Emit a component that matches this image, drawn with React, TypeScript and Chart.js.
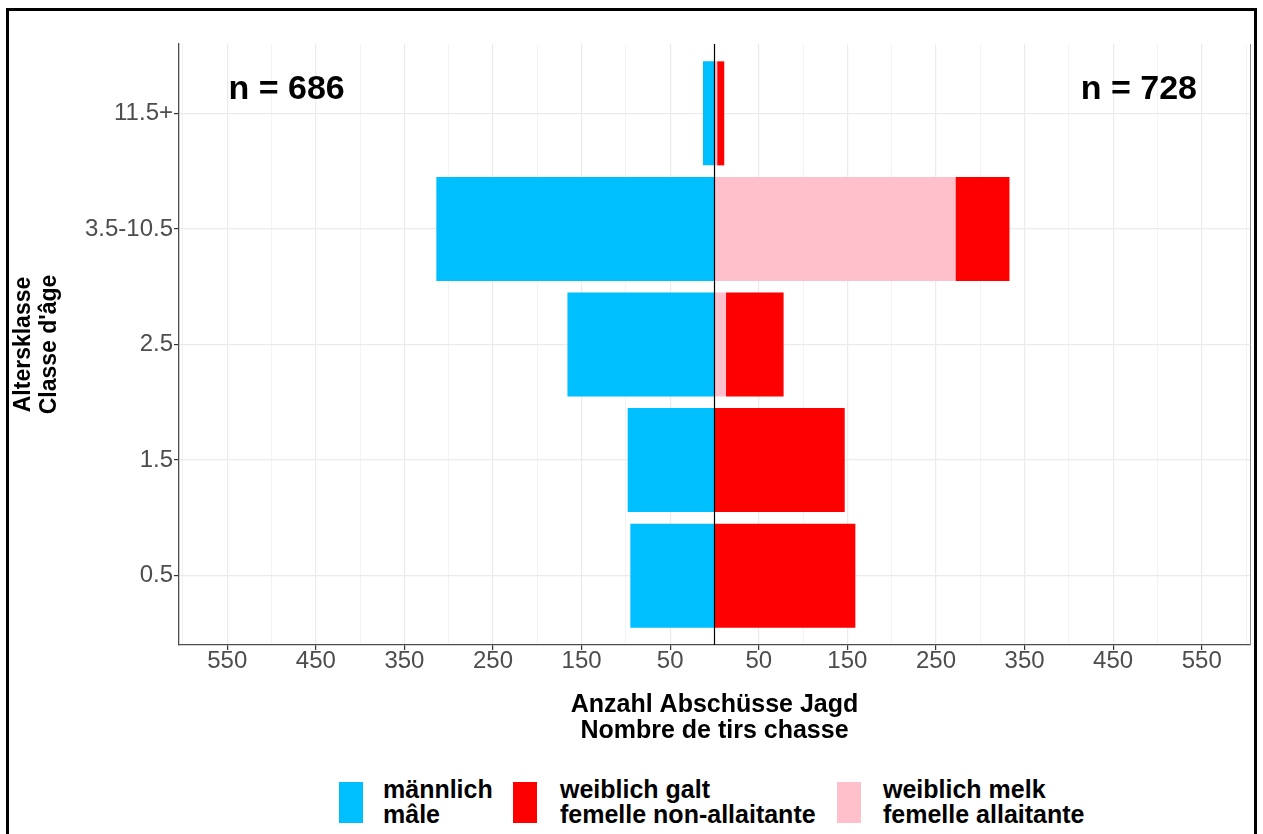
import React, { useEffect, useRef } from 'react';
import { Chart, registerables } from 'chart.js';

Chart.register(...registerables);

// ---- data ----
const categories = ['0.5', '1.5', '2.5', '3.5-10.5', '11.5+'];
const male = [95, 98, 166, 314, 13];
const femaleMelk = [0, 0, 13, 272, 3];
const femaleGalt = [159, 147, 65, 61, 8];
const xTickValues = [
  -600, -550, -500, -450, -400, -350, -300, -250, -200, -150, -100, -50, 0,
  50, 100, 150, 200, 250, 300, 350, 400, 450, 500, 550, 600,
];
const xLabelValues = [50, 150, 250, 350, 450, 550];
const yTickValues = [0, 1, 2, 3, 4];

const legendItems = [
  { color: '#00BFFF', lines: ['männlich', 'mâle'] },
  { color: '#FF0000', lines: ['weiblich galt', 'femelle non-allaitante'] },
  { color: '#FFC0CB', lines: ['weiblich melk', 'femelle allaitante'] },
];

const sum = (a: number[]) => a.reduce((s, v) => s + v, 0);
const nMaleText = `n = ${sum(male)}`;
const nFemaleText = `n = ${sum(femaleMelk) + sum(femaleGalt)}`;
const nMalePos = { x: -483, y: 4.124 };
const nFemalePos = { x: 479, y: 4.124 };

const FAMILY = '"Liberation Sans", Arial, Helvetica, sans-serif';

const overlayPlugin = {
  id: 'overlay',
  afterDatasetsDraw(chart: any) {
    const { ctx, chartArea, scales } = chart;
    const x = scales.x;
    const y = scales.y;
    ctx.save();
    // zero line
    const x0 = x.getPixelForValue(0);
    ctx.strokeStyle = '#000000';
    ctx.lineWidth = 1.2;
    ctx.beginPath();
    ctx.moveTo(x0, chartArea.top);
    ctx.lineTo(x0, chartArea.bottom);
    ctx.stroke();
    // right panel border
    ctx.strokeStyle = '#8c8c8c';
    ctx.lineWidth = 1;
    ctx.beginPath();
    ctx.moveTo(chartArea.right + 0.5, chartArea.top);
    ctx.lineTo(chartArea.right + 0.5, chartArea.bottom);
    ctx.stroke();
    // n annotations
    ctx.fillStyle = '#000000';
    ctx.font = `bold 34px ${FAMILY}`;
    ctx.textAlign = 'center';
    ctx.textBaseline = 'alphabetic';
    ctx.fillText(nMaleText, x.getPixelForValue(nMalePos.x), y.getPixelForValue(nMalePos.y));
    ctx.fillText(nFemaleText, x.getPixelForValue(nFemalePos.x), y.getPixelForValue(nFemalePos.y));
    ctx.restore();
  },
};

export default function App() {
  const canvasRef = useRef<HTMLCanvasElement | null>(null);

  useEffect(() => {
    if (!canvasRef.current) return;
    Chart.defaults.font.family = FAMILY;
    const toPts = (arr: number[], sign: number) => arr.map((v, i) => ({ x: sign * v, y: i }));
    const chart = new Chart(canvasRef.current, {
      type: 'bar',
      data: {
        datasets: [
          {
            label: 'männlich',
            data: toPts(male, -1),
            backgroundColor: '#00BFFF',
            borderWidth: 0,
            stack: 's',
          },
          {
            label: 'weiblich melk',
            data: toPts(femaleMelk, 1),
            backgroundColor: '#FFC0CB',
            borderWidth: 0,
            stack: 's',
          },
          {
            label: 'weiblich galt',
            data: toPts(femaleGalt, 1),
            backgroundColor: '#FF0000',
            borderWidth: 0,
            stack: 's',
          },
        ],
      } as any,
      options: {
        indexAxis: 'y',
        responsive: false,
        animation: false,
        layout: { padding: { left: 0, right: 13, top: 44, bottom: 15.7 } },
        datasets: { bar: { categoryPercentage: 1, barPercentage: 0.9 } } as any,
        plugins: { legend: { display: false }, tooltip: { enabled: false } },
        scales: {
          x: {
            type: 'linear',
            stacked: true,
            offset: false,
            min: -604.5,
            max: 604.5,
            afterBuildTicks: (s: any) => {
              s.ticks = xTickValues.map((v) => ({ value: v }));
            },
            afterFit: (s: any) => {
              s.height = 744.3 - 645;
            },
            grid: {
              offset: false,
              color: '#ebebeb',
              lineWidth: (c: any) =>
                c.tick && xLabelValues.includes(Math.abs(c.tick.value)) ? 1.2 : 0.6,
              tickColor: (c: any) =>
                c.tick && xLabelValues.includes(Math.abs(c.tick.value)) ? '#333333' : 'rgba(0,0,0,0)',
              tickLength: 5,
              tickWidth: 1.2,
            },
            border: { display: true, color: '#4d4d4d', width: 1.3 },
            ticks: {
              autoSkip: false,
              maxRotation: 0,
              minRotation: 0,
              padding: 2,
              color: '#4d4d4d',
              font: { size: 24, lineHeight: 0.8 },
              callback: (v: any) =>
                xLabelValues.includes(Math.abs(Number(v))) ? String(Math.abs(Number(v))) : '',
            },
            title: {
              display: true,
              text: ['Anzahl Abschüsse Jagd', 'Nombre de tirs chasse'],
              color: '#000000',
              font: { size: 25, weight: 'bold', lineHeight: 1.04 },
              padding: { top: 0, bottom: 0 },
            },
          },
          y: {
            type: 'linear',
            stacked: true,
            offset: false,
            min: -0.6,
            max: 4.6,
            afterBuildTicks: (s: any) => {
              s.ticks = yTickValues.map((v) => ({ value: v }));
            },
            afterFit: (s: any) => {
              s.width = 179;
            },
            grid: {
              offset: false,
              color: '#ebebeb',
              lineWidth: 1.2,
              tickColor: '#333333',
              tickLength: 5,
              tickWidth: 1.2,
            },
            border: { display: true, color: '#4d4d4d', width: 1.3 },
            ticks: {
              autoSkip: false,
              padding: 1,
              color: '#4d4d4d',
              font: { size: 24 },
              callback: (v: any) => categories[Number(v)] ?? '',
            },
            title: {
              display: true,
              text: ['Altersklasse', "Classe d'âge"],
              color: '#000000',
              font: { size: 23, weight: 'bold', lineHeight: 26 / 23 },
              padding: { top: 11, bottom: 0 },
            },
          },
        },
      } as any,
      plugins: [overlayPlugin],
    });
    return () => chart.destroy();
  }, []);

  return (
    <div
      style={{
        position: 'absolute',
        left: 0,
        top: 0,
        width: 1263,
        height: 834,
        background: '#ffffff',
        overflow: 'hidden',
        fontFamily: FAMILY,
      }}
    >
      <canvas
        ref={canvasRef}
        width={1263}
        height={760}
        style={{ position: 'absolute', left: 0, top: 0, width: 1263, height: 760, display: 'block' }}
      />
      {legendItems.map((item, i) => {
        const boxLeft = [339, 513, 837][i];
        const textLeft = [383, 560, 883][i];
        return (
          <React.Fragment key={i}>
            <div
              style={{
                position: 'absolute',
                left: boxLeft,
                top: 782,
                width: 24,
                height: 41,
                background: item.color,
              }}
            />
            <div
              style={{
                position: 'absolute',
                left: textLeft,
                top: 777,
                fontSize: 25,
                lineHeight: '25px',
                fontWeight: 'bold',
                color: '#000000',
                whiteSpace: 'nowrap',
              }}
            >
              {item.lines.map((l, j) => (
                <div key={j}>{l}</div>
              ))}
            </div>
          </React.Fragment>
        );
      })}
      <div
        style={{
          position: 'absolute',
          left: 6,
          top: 8,
          width: 1251,
          height: 860,
          boxSizing: 'border-box',
          border: '3px solid #000000',
          pointerEvents: 'none',
        }}
      />
    </div>
  );
}
